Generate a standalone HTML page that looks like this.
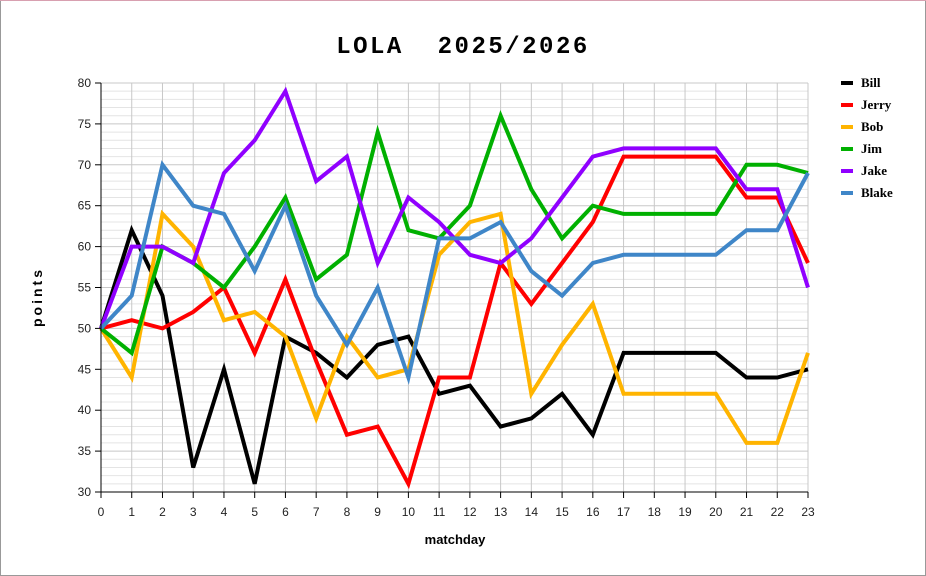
<!DOCTYPE html>
<html><head><meta charset="utf-8"><style>
html,body{margin:0;padding:0;background:#fff}
svg{display:block}
</style></head><body>
<svg width="926" height="576" xmlns="http://www.w3.org/2000/svg" font-family="Liberation Sans, DejaVu Sans, sans-serif">
<rect x="0.5" y="0.5" width="925" height="575" fill="#fff" stroke="#999"/>
<line x1="0" y1="0.5" x2="926" y2="0.5" stroke="#d8a0b0"/>
<text x="463" y="53" text-anchor="middle" font-family="Liberation Mono, monospace" font-weight="bold" font-size="24" letter-spacing="2.5" xml:space="preserve">LOLA  2025/2026</text>
<g id="grid"></g>
<g id="series" fill="none" stroke-width="4" stroke-linejoin="miter"></g>
<text transform="translate(42,297) rotate(-90)" text-anchor="middle" font-weight="bold" font-size="14" letter-spacing="3">points</text>
<text x="455" y="544" text-anchor="middle" font-weight="bold" font-size="13">matchday</text>
<g id="legend" font-family="Liberation Serif, DejaVu Serif, serif" font-weight="bold" font-size="13"></g>
<g id="ticks" font-size="12" fill="#222"></g>
<script>
var NS="http://www.w3.org/2000/svg";
function el(t,a,p){var e=document.createElementNS(NS,t);for(var k in a)e.setAttribute(k,a[k]);p.appendChild(e);return e;}
var X0=101,X1=808,Y0=83,Y1=492;
function X(i){return X0+(X1-X0)*i/23;}
function Y(v){return Y1-(Y1-Y0)*(v-30)/50;}
var g=document.getElementById('grid');
for(var v=30;v<=80;v++){el('line',{x1:X0,x2:X1,y1:Y(v),y2:Y(v),stroke:v%5==0?'#c8c8c8':'#e4e4e4','stroke-width':1},g);}
for(var i=1;i<=23;i++){el('line',{x1:X(i),x2:X(i),y1:Y0,y2:Y1,stroke:'#c8c8c8','stroke-width':1},g);}
var t=document.getElementById('ticks');
el('line',{x1:X0,x2:X0,y1:Y0,y2:Y1+6,stroke:'#000'},t);
el('line',{x1:X0-6,x2:X1,y1:Y1,y2:Y1,stroke:'#000'},t);
for(var v=30;v<=80;v+=5){el('line',{x1:X0-6,x2:X0,y1:Y(v),y2:Y(v),stroke:'#000'},t);var tx=el('text',{x:X0-10,y:Y(v)+4,'text-anchor':'end'},t);tx.textContent=v;}
for(var i=0;i<=23;i++){el('line',{x1:X(i),x2:X(i),y1:Y1,y2:Y1+6,stroke:'#000'},t);var tx=el('text',{x:X(i),y:Y1+24,'text-anchor':'middle'},t);tx.textContent=i;}
var S=[
["Bill","#000",[50,62,54,33,45,31,49,47,44,48,49,42,43,38,39,42,37,47,47,47,47,44,44,45]],
["Jerry","#ff0000",[50,51,50,52,55,47,56,46,37,38,31,44,44,58,53,58,63,71,71,71,71,66,66,58]],
["Bob","#ffb400",[50,44,64,60,51,52,49,39,49,44,45,59,63,64,42,48,53,42,42,42,42,36,36,47]],
["Jim","#00b000",[50,47,60,58,55,60,66,56,59,74,62,61,65,76,67,61,65,64,64,64,64,70,70,69]],
["Jake","#9000ff",[50,60,60,58,69,73,79,68,71,58,66,63,59,58,61,66,71,72,72,72,72,67,67,55]],
["Blake","#3f86c8",[50,54,70,65,64,57,65,54,48,55,44,61,61,63,57,54,58,59,59,59,59,62,62,69]]];
var sg=document.getElementById('series'),lg=document.getElementById('legend');
S.forEach(function(s,k){
 var p=s[2].map(function(v,i){return X(i).toFixed(1)+','+Y(v).toFixed(1);}).join(' ');
 el('polyline',{points:p,stroke:s[1]},sg);
 var ly=83+k*22;
 el('rect',{x:841,y:ly-2,width:12,height:4,fill:s[1]},lg);
 var tx=el('text',{x:861,y:ly+4},lg);tx.textContent=s[0];
});
</script>
</svg>
</body></html>
